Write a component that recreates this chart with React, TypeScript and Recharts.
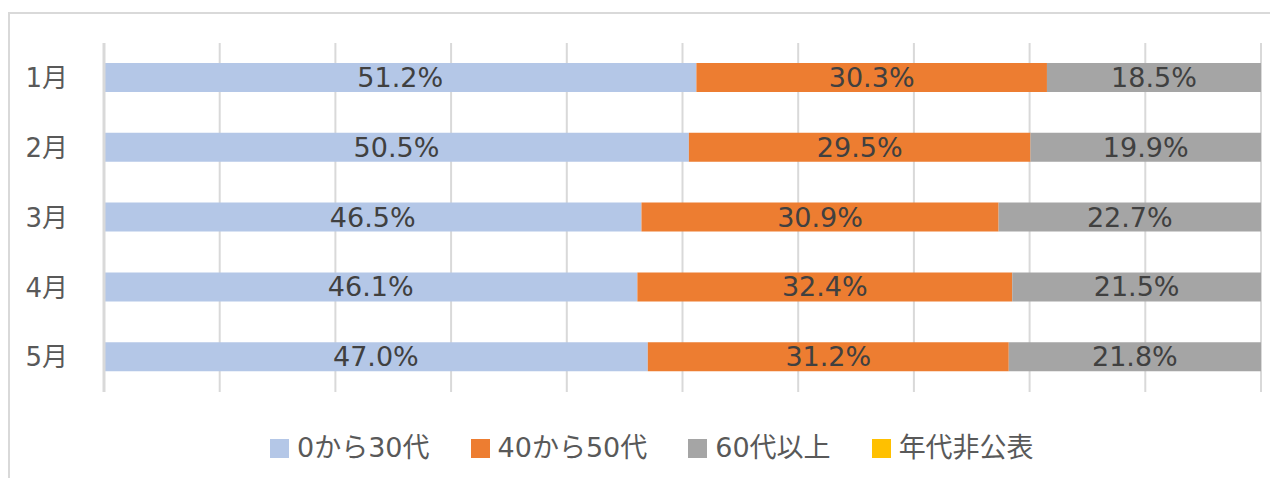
import { Bar, BarChart, CartesianGrid, LabelList, XAxis, YAxis } from "recharts"

const months = ["1月", "2月", "3月", "4月", "5月"]
const young = [51.2, 50.5, 46.5, 46.1, 47.0]
const middle = [30.3, 29.5, 30.9, 32.4, 31.2]
const senior = [18.5, 19.9, 22.7, 21.5, 21.8]
const undisclosed = [0, 0, 0, 0, 0]
const xTicks = [0, 0.1, 0.2, 0.3, 0.4, 0.5, 0.6, 0.7, 0.8, 0.9, 1]

const SERIES = [
  { key: "young", name: "0から30代", color: "#b4c7e7", label: true },
  { key: "middle", name: "40から50代", color: "#ed7d31", label: true },
  { key: "senior", name: "60代以上", color: "#a5a5a5", label: true },
  { key: "undisclosed", name: "年代非公表", color: "#ffc000", label: false },
]

const data = months.map((m, i) => ({
  month: m,
  young: young[i],
  middle: middle[i],
  senior: senior[i],
  undisclosed: undisclosed[i],
}))

const FONT = '"DejaVu Sans", "Noto Sans CJK JP", sans-serif'

function pct(v: unknown) {
  return `${Number(v).toFixed(1)}%`
}

export default function App() {
  return (
    <div
      style={{
        position: "relative",
        marginTop: 4,
        width: 1260,
        height: 464,
        borderTop: "2px solid #d9d9d9",
        borderLeft: "2px solid #d9d9d9",
        fontFamily: FONT,
      }}
    >
      <BarChart
        width={1260}
        height={464}
        data={data}
        layout="vertical"
        stackOffset="expand"
        barSize={29}
        margin={{ top: 29, right: 9, bottom: 86, left: 0 }}
      >
        <CartesianGrid horizontal={false} stroke="#d9d9d9" strokeWidth={2} />
        <XAxis
          type="number"
          domain={[0, 1]}
          ticks={xTicks}
          interval={0}
          tick={{ fill: "none", fontSize: 1 }}
          axisLine={false}
          tickLine={false}
          height={0}
        />
        <YAxis
          type="category"
          dataKey="month"
          width={94}
          tickSize={0}
          tickMargin={36}
          axisLine={{ stroke: "#d9d9d9", strokeWidth: 3 }}
          tick={{ fontSize: 26, fill: "#595959", fontFamily: FONT }}
        />
        {SERIES.map(s => (
          <Bar key={s.key} dataKey={s.key} name={s.name} stackId="a" fill={s.color} isAnimationActive={false}>
            {s.label && (
              <LabelList
                dataKey={s.key}
                position="center"
                formatter={pct}
                fill="#404040"
                fontSize={27}
                fontFamily={FONT}
              />
            )}
          </Bar>
        ))}
      </BarChart>
      <div
        style={{
          position: "absolute",
          left: 260,
          top: 412,
          display: "flex",
          alignItems: "center",
          fontSize: 27,
          color: "#595959",
          whiteSpace: "nowrap",
        }}
      >
        {SERIES.map(s => (
          <div key={s.key} style={{ display: "flex", alignItems: "center", marginRight: 41 }}>
            <span style={{ width: 19, height: 19, background: s.color, marginRight: 8, marginTop: 5 }} />
            <span>{s.name}</span>
          </div>
        ))}
      </div>
    </div>
  )
}
